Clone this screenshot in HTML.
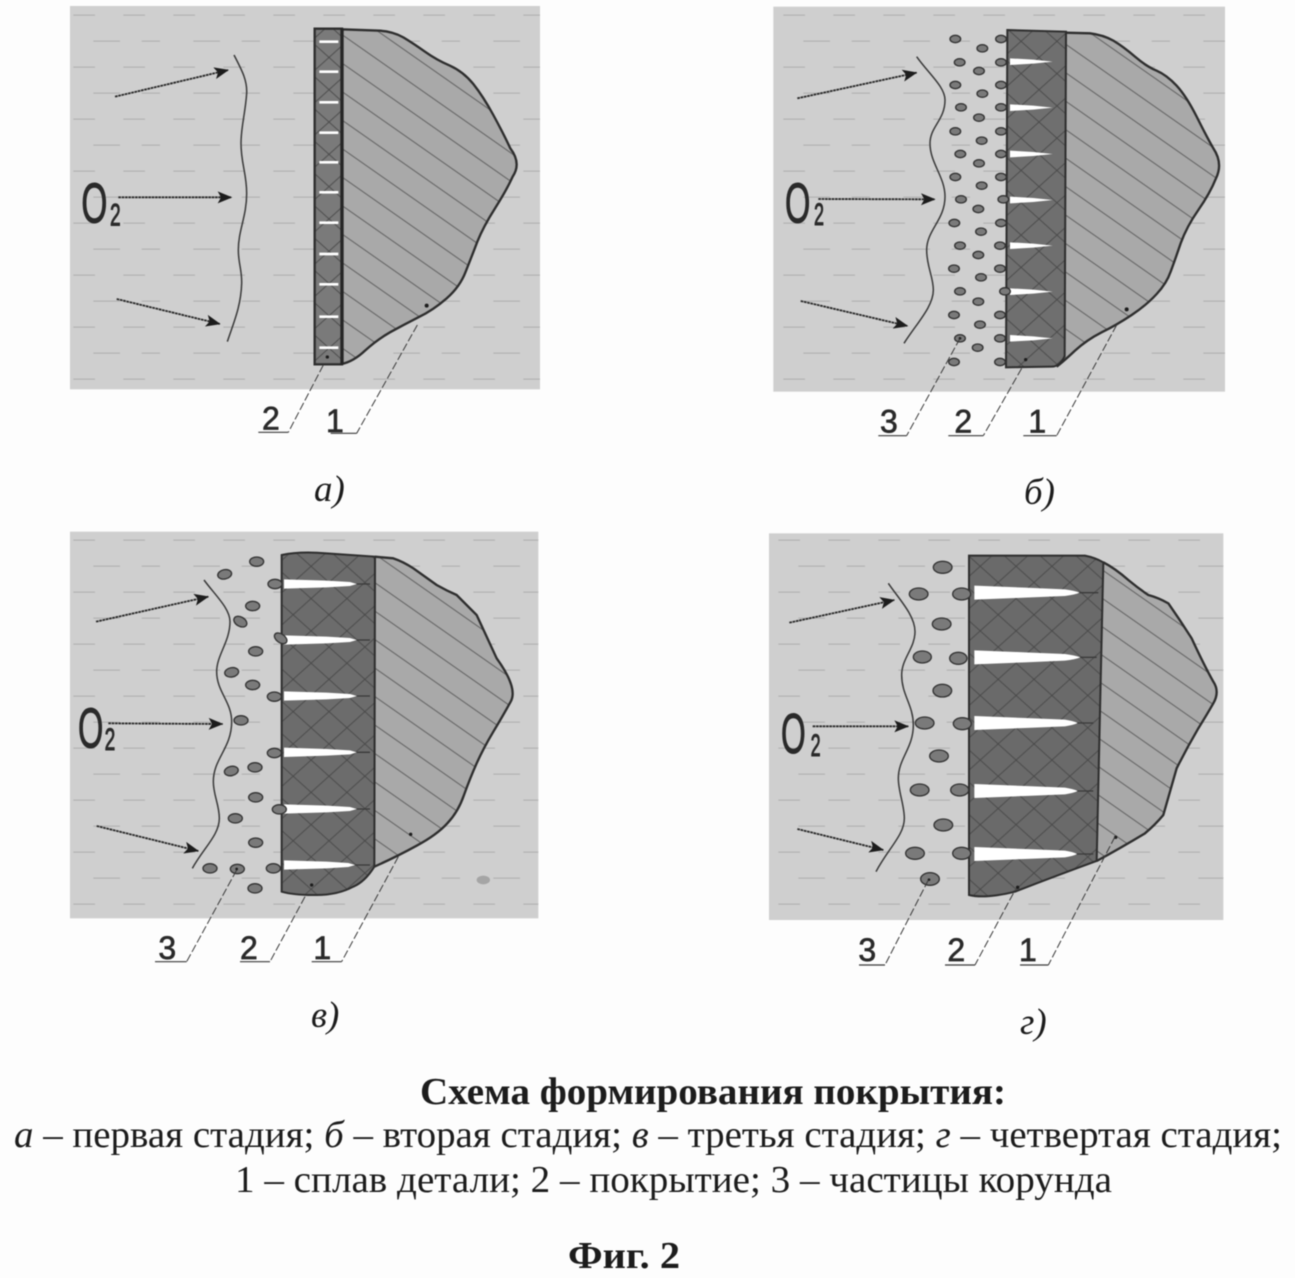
<!DOCTYPE html>
<html lang="ru">
<head>
<meta charset="utf-8">
<title>Фиг. 2</title>
<style>
html,body{margin:0;padding:0;background:#fdfdfd}
svg{display:block;filter:blur(.55px)}
text{font-family:"Liberation Serif","Noto Serif CJK SC",serif;fill:#1c1c1c}
.n{font-family:"Liberation Sans",sans-serif;font-size:96px;fill:#2a2a2a;stroke:#2a2a2a;stroke-width:2}
.o{font-family:"Liberation Sans",sans-serif;fill:#2a2a2a;stroke:#2a2a2a;stroke-width:3}
.cap{font-style:italic;font-size:37px}
.bg{fill:#cfcfcf}
.w{fill:none;stroke:#3a3a3a;stroke-width:4.5}
.ar{fill:none;stroke:#2a2a2a;stroke-width:5.5;stroke-dasharray:8 2;marker-end:url(#ah)}
.ld{fill:none;stroke:#3a3a3a;stroke-width:3;stroke-dasharray:24 8}
.ul{fill:none;stroke:#3a3a3a;stroke-width:3.5}
.sl{fill:#fff}
.ex{stroke:#3a3a3a;stroke-width:4}
.p ellipse{fill:#7a7a7a;stroke:#333;stroke-width:4}
.dot{fill:#1c1c1c}
.big{font-size:38px}
</style>
</head>
<body>
<svg xmlns="http://www.w3.org/2000/svg" width="1295" height="1278" viewBox="0 0 1295 1278">
<defs>
<pattern id="d" patternUnits="userSpaceOnUse" width="300" height="156" x="0" y="0">
<rect x="40" y="44" width="65" height="3" fill="#adadad"/><rect x="190" y="44" width="65" height="3" fill="#adadad"/>
<rect x="100" y="122" width="80" height="3" fill="#adadad"/><rect x="245" y="122" width="80" height="3" fill="#adadad"/>
</pattern>
<pattern id="h" patternUnits="userSpaceOnUse" width="200" height="70" patternTransform="rotate(35)">
<line x1="0" y1="20" x2="200" y2="20" stroke="#555" stroke-width="2.5"/>
</pattern>
<pattern id="xa" patternUnits="userSpaceOnUse" width="200" height="72" patternTransform="rotate(42)">
<line x1="0" y1="20" x2="200" y2="20" stroke="#474747" stroke-width="2.5"/>
</pattern>
<pattern id="xb" patternUnits="userSpaceOnUse" width="200" height="72" patternTransform="rotate(-42)">
<line x1="0" y1="20" x2="200" y2="20" stroke="#474747" stroke-width="2.5"/>
</pattern>
<marker id="ah" markerUnits="userSpaceOnUse" viewBox="0 0 44 40" refX="42" refY="20" markerWidth="44" markerHeight="40" orient="auto">
<path d="M0 2L44 20L0 38L10 20Z" fill="#1c1c1c"/>
</marker>
</defs>

<!-- Panel a -->
<g transform="translate(60,0) scale(.33333)">
<rect class="bg" x="30" y="18" width="1410" height="1150"/>
<rect fill="url(#d)" x="30" y="18" width="1410" height="1150"/>
<path d="M845 88L960 92Q1000 95 1030 112Q1060 130 1095 155Q1130 180 1170 197Q1210 215 1240 252Q1270 290 1300 345Q1330 400 1351 445Q1385 490 1358 530Q1340 570 1305 625Q1270 680 1252 725Q1235 770 1217 815Q1200 860 1160 895Q1120 930 1075 952Q1030 975 990 997Q950 1020 915 1052Q880 1085 845 1092Z" fill="#a9a9a9"/>
<path d="M845 88L960 92Q1000 95 1030 112Q1060 130 1095 155Q1130 180 1170 197Q1210 215 1240 252Q1270 290 1300 345Q1330 400 1351 445Q1385 490 1358 530Q1340 570 1305 625Q1270 680 1252 725Q1235 770 1217 815Q1200 860 1160 895Q1120 930 1075 952Q1030 975 990 997Q950 1020 915 1052Q880 1085 845 1092Z" fill="url(#h)" stroke="#2e2e2e" stroke-width="7"/>
<rect x="764" y="86" width="82" height="1007" fill="#7a7a7a"/>
<rect x="764" y="86" width="82" height="1007" fill="url(#xa)"/>
<rect x="764" y="86" width="82" height="1007" fill="url(#xb)"/>
<rect x="764" y="86" width="82" height="1007" fill="none" stroke="#2e2e2e" stroke-width="7"/>
<line x1="846" y1="86" x2="846" y2="1093" stroke="#262626" stroke-width="10"/>
<path class="sl" d="M778 121h57v8h-57zM778 211h57v8h-57zM778 303h57v8h-57zM778 394h57v8h-57zM778 483h57v8h-57zM778 573h57v8h-57zM778 664h57v8h-57zM778 758h57v8h-57zM778 849h57v8h-57zM778 946h57v8h-57zM778 1039h57v8h-57z"/>
<path class="w" d="M522 165C545 210 562 240 560 280C556 340 543 380 543 430C543 490 560 520 560 580C560 650 535 690 535 750C535 790 546 810 545 850C543 920 520 970 502 1025"/>
<path class="ar" d="M165 290L505 210"/>
<path class="ar" d="M175 592L515 592"/>
<path class="ar" d="M170 897L480 972"/>
<text class="o" x="64" y="667" font-size="170" textLength="78" lengthAdjust="spacingAndGlyphs">O</text>
<text class="o" x="150" y="677" font-size="95" textLength="32" lengthAdjust="spacingAndGlyphs">2</text>
<circle class="dot" cx="802" cy="1071" r="5"/><circle class="dot" cx="1100" cy="917" r="6"/>
<path class="ld" d="M790 1095L685 1297"/><path class="ld" d="M1072 975L890 1300"/>
<path class="ul" d="M595 1297H685M812 1300H890"/>
<text class="n" x="606" y="1288">2</text>
<text class="n" x="798" y="1296">1</text>
</g>

<!-- Panel b -->
<g transform="translate(770,0) scale(.33333)">
<rect class="bg" x="10" y="20" width="1355" height="1155"/>
<rect fill="url(#d)" x="10" y="20" width="1355" height="1155"/>
<path d="M885 98L960 100Q1000 105 1030 122Q1060 140 1095 170Q1130 200 1160 212Q1190 225 1220 257Q1250 290 1280 350Q1310 410 1330 445Q1360 490 1338 535Q1320 580 1285 630Q1250 680 1232 730Q1215 780 1202 815Q1190 850 1160 882Q1130 915 1085 945Q1040 975 995 997Q950 1020 915 1052Q880 1085 860 1100L840 1100L840 98Z" fill="#a9a9a9"/>
<path d="M885 98L960 100Q1000 105 1030 122Q1060 140 1095 170Q1130 200 1160 212Q1190 225 1220 257Q1250 290 1280 350Q1310 410 1330 445Q1360 490 1338 535Q1320 580 1285 630Q1250 680 1232 730Q1215 780 1202 815Q1190 850 1160 882Q1130 915 1085 945Q1040 975 995 997Q950 1020 915 1052Q880 1085 860 1100" fill="url(#h)" stroke="#2e2e2e" stroke-width="7"/>
<path d="M712 90L888 95L884 1068Q870 1100 845 1100L708 1102Z" fill="#6f6f6f"/>
<path d="M712 90L888 95L884 1068Q870 1100 845 1100L708 1102Z" fill="url(#xa)"/>
<path d="M712 90L888 95L884 1068Q870 1100 845 1100L708 1102Z" fill="url(#xb)" stroke="#2e2e2e" stroke-width="6"/>
<path class="sl" d="M720 175L790 179L848 185L790 191L720 195ZM720 313L790 317L848 323L790 329L720 333ZM720 452L790 456L848 462L790 468L720 472ZM720 590L790 594L848 600L790 606L720 610ZM720 727L790 731L848 737L790 743L720 747ZM720 865L790 869L848 875L790 881L720 885ZM720 1005L790 1009L848 1015L790 1021L720 1025Z"/>
<g class="p">
<ellipse cx="556" cy="117" rx="16" ry="11"/><ellipse cx="693" cy="117" rx="16" ry="11"/><ellipse cx="637" cy="145" rx="16" ry="11"/><ellipse cx="569" cy="187" rx="16" ry="11"/><ellipse cx="693" cy="187" rx="16" ry="11"/><ellipse cx="627" cy="213" rx="16" ry="11"/><ellipse cx="556" cy="255" rx="16" ry="11"/><ellipse cx="693" cy="255" rx="16" ry="11"/><ellipse cx="637" cy="281" rx="16" ry="11"/><ellipse cx="573" cy="322" rx="16" ry="11"/><ellipse cx="693" cy="322" rx="16" ry="11"/><ellipse cx="627" cy="353" rx="16" ry="11"/><ellipse cx="556" cy="394" rx="16" ry="11"/><ellipse cx="693" cy="394" rx="16" ry="11"/><ellipse cx="635" cy="422" rx="16" ry="11"/><ellipse cx="571" cy="462" rx="16" ry="11"/><ellipse cx="693" cy="462" rx="16" ry="11"/><ellipse cx="627" cy="490" rx="16" ry="11"/><ellipse cx="556" cy="531" rx="16" ry="11"/><ellipse cx="693" cy="531" rx="16" ry="11"/><ellipse cx="635" cy="557" rx="16" ry="11"/><ellipse cx="573" cy="598" rx="16" ry="11"/><ellipse cx="700" cy="598" rx="16" ry="11"/><ellipse cx="625" cy="627" rx="16" ry="11"/><ellipse cx="553" cy="669" rx="16" ry="11"/><ellipse cx="693" cy="669" rx="16" ry="11"/><ellipse cx="633" cy="695" rx="16" ry="11"/><ellipse cx="570" cy="737" rx="16" ry="11"/><ellipse cx="690" cy="737" rx="16" ry="11"/><ellipse cx="625" cy="765" rx="16" ry="11"/><ellipse cx="552" cy="806" rx="16" ry="11"/><ellipse cx="690" cy="806" rx="16" ry="11"/><ellipse cx="633" cy="832" rx="16" ry="11"/><ellipse cx="570" cy="874" rx="16" ry="11"/><ellipse cx="705" cy="874" rx="16" ry="11"/><ellipse cx="625" cy="905" rx="16" ry="11"/><ellipse cx="552" cy="945" rx="16" ry="11"/><ellipse cx="690" cy="945" rx="16" ry="11"/><ellipse cx="630" cy="974" rx="16" ry="11"/><ellipse cx="570" cy="1015" rx="16" ry="11"/><ellipse cx="690" cy="1015" rx="16" ry="11"/><ellipse cx="623" cy="1043" rx="16" ry="11"/><ellipse cx="552" cy="1086" rx="16" ry="11"/><ellipse cx="690" cy="1086" rx="16" ry="11"/>
</g>
<path class="w" d="M440 170C475 220 525 260 525 300C525 360 480 380 480 430C480 490 525 530 525 590C525 660 470 690 470 750C470 800 490 830 490 870C490 920 440 970 402 1030"/>
<path class="ar" d="M82 295L440 218"/>
<path class="ar" d="M145 597L495 598"/>
<path class="ar" d="M92 903L413 978"/>
<text class="o" x="45" y="667" font-size="170" textLength="76" lengthAdjust="spacingAndGlyphs">O</text>
<text class="o" x="132" y="675" font-size="95" textLength="30" lengthAdjust="spacingAndGlyphs">2</text>
<circle class="dot" cx="767" cy="1079" r="5"/><circle class="dot" cx="1070" cy="928" r="6"/><circle class="dot" cx="570" cy="1015" r="4"/>
<path class="ld" d="M570 1015L410 1307"/><path class="ld" d="M755 1105L640 1307"/><path class="ld" d="M1040 975L860 1307"/>
<path class="ul" d="M325 1307H410M535 1307H640M760 1307H860"/>
<text class="n" x="330" y="1298">3</text>
<text class="n" x="553" y="1298">2</text>
<text class="n" x="775" y="1298">1</text>
</g>

<!-- Panel c -->
<g transform="translate(60,525) scale(.33333)">
<rect class="bg" x="30" y="20" width="1405" height="1160"/>
<rect fill="url(#d)" x="30" y="20" width="1405" height="1160"/>
<ellipse cx="1270" cy="1065" rx="20" ry="13" fill="#a5a5a5"/>
<path d="M930 95L1000 100Q1030 110 1060 130Q1095 155 1130 180Q1160 197 1190 210Q1220 240 1250 270Q1280 335 1310 400Q1375 490 1352 530Q1330 570 1300 620Q1270 670 1250 715Q1230 760 1212 810Q1195 860 1162 895Q1130 930 1070 962Q1010 995 976 1010L930 1030Z" fill="#a9a9a9"/>
<path d="M945 95L1000 100Q1030 110 1060 130Q1095 155 1130 180Q1160 197 1190 210Q1220 240 1250 270Q1280 335 1310 400Q1375 490 1352 530Q1330 570 1300 620Q1270 670 1250 715Q1230 760 1212 810Q1195 860 1162 895Q1130 930 1070 962Q1010 995 943 1025" fill="url(#h)" stroke="#2e2e2e" stroke-width="7"/>
<path d="M665 90Q720 78 800 85L945 95L943 1025Q915 1070 880 1085Q830 1112 760 1110Q700 1110 665 1100Z" fill="#6c6c6c"/>
<path d="M665 90Q720 78 800 85L945 95L943 1025Q915 1070 880 1085Q830 1112 760 1110Q700 1110 665 1100Z" fill="url(#xa)"/>
<path d="M665 90Q720 78 800 85L945 95L943 1025Q915 1070 880 1085Q830 1112 760 1110Q700 1110 665 1100Z" fill="url(#xb)" stroke="#2e2e2e" stroke-width="6"/>
<path class="ex" d="M890 177H930M890 345H930M890 513H930M890 682H930M890 852H930M885 1020H930"/>
<path class="sl" d="M672 163L800 167L870 171L890 177L870 183L800 187L672 191ZM672 331L800 335L870 339L890 345L870 351L800 355L672 359ZM672 499L800 503L870 507L890 513L870 519L800 523L672 527ZM672 668L800 672L870 676L890 682L870 688L800 692L672 696ZM672 838L800 842L870 846L890 852L870 858L800 862L672 866ZM672 1006L800 1010L865 1014L885 1020L865 1026L800 1030L672 1034Z"/>
<g class="p">
<ellipse cx="590" cy="110" rx="21" ry="14"/><ellipse cx="494" cy="148" rx="21" ry="14" transform="rotate(-12 494 148)"/><ellipse cx="645" cy="177" rx="21" ry="14"/><ellipse cx="578" cy="243" rx="21" ry="14"/><ellipse cx="541" cy="290" rx="21" ry="14" transform="rotate(30 541 290)"/><ellipse cx="662" cy="340" rx="21" ry="13" transform="rotate(35 662 340)"/><ellipse cx="587" cy="379" rx="21" ry="14"/><ellipse cx="515" cy="442" rx="21" ry="14" transform="rotate(-10 515 442)"/><ellipse cx="578" cy="480" rx="21" ry="14"/><ellipse cx="643" cy="515" rx="21" ry="14"/><ellipse cx="543" cy="586" rx="21" ry="14"/><ellipse cx="643" cy="684" rx="21" ry="14"/><ellipse cx="514" cy="738" rx="21" ry="14" transform="rotate(-12 514 738)"/><ellipse cx="585" cy="727" rx="21" ry="14"/><ellipse cx="587" cy="817" rx="21" ry="14"/><ellipse cx="658" cy="853" rx="21" ry="14"/><ellipse cx="526" cy="880" rx="21" ry="14"/><ellipse cx="587" cy="953" rx="21" ry="14"/><ellipse cx="450" cy="1030" rx="21" ry="14"/><ellipse cx="532" cy="1032" rx="21" ry="14"/><ellipse cx="640" cy="1030" rx="21" ry="14"/><ellipse cx="585" cy="1090" rx="21" ry="14"/>
</g>
<path class="w" d="M432 165C465 210 510 250 510 290C510 350 470 390 470 440C470 500 515 530 515 590C515 670 460 700 460 770C460 810 478 840 478 880C478 930 430 970 397 1030"/>
<path class="ar" d="M108 290L445 215"/>
<path class="ar" d="M145 595L488 597"/>
<path class="ar" d="M110 903L415 978"/>
<text class="o" x="54" y="667" font-size="170" textLength="76" lengthAdjust="spacingAndGlyphs">O</text>
<text class="o" x="134" y="675" font-size="95" textLength="32" lengthAdjust="spacingAndGlyphs">2</text>
<circle class="dot" cx="755" cy="1080" r="5"/><circle class="dot" cx="1052" cy="928" r="5"/><circle class="dot" cx="530" cy="1032" r="4"/>
<path class="ld" d="M530 1035L380 1310"/><path class="ld" d="M735 1115L630 1310"/><path class="ld" d="M1015 995L845 1310"/>
<path class="ul" d="M285 1310H380M540 1310H630M755 1310H845"/>
<text class="n" x="295" y="1302">3</text>
<text class="n" x="540" y="1302">2</text>
<text class="n" x="760" y="1302">1</text>
</g>

<!-- Panel d -->
<g transform="translate(765,525) scale(.33333)">
<rect class="bg" x="12" y="25" width="1363" height="1160"/>
<rect fill="url(#d)" x="12" y="25" width="1363" height="1160"/>
<path d="M1000 105Q1050 125 1090 165Q1120 190 1150 210Q1180 218 1210 235Q1245 285 1280 340Q1317 420 1345 470Q1365 500 1345 535Q1325 570 1300 610Q1265 670 1235 730Q1215 800 1195 870Q1170 900 1140 925Q1065 970 980 1015Z" fill="#a9a9a9"/>
<path d="M1015 112Q1050 130 1090 165Q1120 190 1150 210Q1180 218 1210 235Q1245 285 1280 340Q1317 420 1345 470Q1365 500 1345 535Q1325 570 1300 610Q1265 670 1235 730Q1215 800 1195 870Q1170 900 1140 925Q1065 970 995 1008" fill="url(#h)" stroke="#2e2e2e" stroke-width="7"/>
<path d="M612 92L960 92Q990 98 1015 112L995 1008Q880 1050 750 1100Q660 1122 612 1110Z" fill="#6a6a6a"/>
<path d="M612 92L960 92Q990 98 1015 112L995 1008Q880 1050 750 1100Q660 1122 612 1110Z" fill="url(#xa)"/>
<path d="M612 92L960 92Q990 98 1015 112L995 1008Q880 1050 750 1100Q660 1122 612 1110Z" fill="url(#xb)" stroke="#2e2e2e" stroke-width="6"/>
<path class="ex" d="M940 203H1000M945 397H995M935 594H985M935 798H985M935 987H985"/>
<path class="sl" d="M628 182L780 188L900 193Q930 197 944 203Q930 209 900 213L780 218L628 224ZM628 376L780 382L900 387Q930 391 946 397Q930 403 900 407L780 412L628 418ZM628 573L780 579L900 584Q925 588 938 594Q925 600 900 604L780 609L628 615ZM628 777L780 783L900 788Q925 792 938 798Q925 804 900 808L780 813L628 819ZM628 966L780 972L900 977Q925 981 936 987Q925 993 900 997L780 1002L628 1008Z"/>
<g class="p">
<ellipse cx="533" cy="127" rx="28" ry="18"/><ellipse cx="461" cy="207" rx="28" ry="18"/><ellipse cx="590" cy="207" rx="27" ry="18"/><ellipse cx="530" cy="297" rx="28" ry="18"/><ellipse cx="472" cy="396" rx="27" ry="18"/><ellipse cx="580" cy="400" rx="26" ry="18"/><ellipse cx="532" cy="497" rx="28" ry="19"/><ellipse cx="479" cy="594" rx="28" ry="18"/><ellipse cx="592" cy="596" rx="27" ry="18"/><ellipse cx="522" cy="693" rx="28" ry="18"/><ellipse cx="464" cy="795" rx="28" ry="18"/><ellipse cx="584" cy="795" rx="27" ry="18"/><ellipse cx="535" cy="900" rx="28" ry="18"/><ellipse cx="450" cy="985" rx="28" ry="18"/><ellipse cx="590" cy="985" rx="27" ry="18"/><ellipse cx="495" cy="1062" rx="28" ry="19"/>
</g>
<path class="w" d="M370 175C400 220 450 270 450 320C450 370 410 400 410 450C410 510 445 540 445 600C445 670 400 700 400 760C400 800 418 840 418 880C418 930 370 970 333 1040"/>
<path class="ar" d="M73 293L388 225"/>
<path class="ar" d="M143 604L430 604"/>
<path class="ar" d="M97 912L355 975"/>
<text class="o" x="48" y="684" font-size="170" textLength="74" lengthAdjust="spacingAndGlyphs">O</text>
<text class="o" x="137" y="693" font-size="95" textLength="30" lengthAdjust="spacingAndGlyphs">2</text>
<circle class="dot" cx="758" cy="1087" r="5"/><circle class="dot" cx="1052" cy="937" r="5"/><circle class="dot" cx="492" cy="1064" r="4"/>
<path class="ld" d="M490 1065L360 1320"/><path class="ld" d="M745 1105L630 1320"/><path class="ld" d="M1050 935L850 1320"/>
<path class="ul" d="M282 1320H360M540 1320H630M765 1320H850"/>
<text class="n" x="280" y="1308">3</text>
<text class="n" x="547" y="1308">2</text>
<text class="n" x="762" y="1308">1</text>
</g>

<!-- Captions -->
<text class="cap" x="314" y="501">а)</text>
<text class="cap" x="1024" y="504">б)</text>
<text class="cap" x="311" y="1027">в)</text>
<text class="cap" x="1020" y="1034">г)</text>

<text class="big" x="420" y="1104" font-weight="bold" textLength="586" lengthAdjust="spacingAndGlyphs">Схема формирования покрытия:</text>
<text class="big" x="14" y="1147" textLength="1268" lengthAdjust="spacingAndGlyphs"><tspan font-style="italic">а</tspan> – первая стадия; <tspan font-style="italic">б</tspan> – вторая стадия; <tspan font-style="italic">в</tspan> – третья стадия; <tspan font-style="italic">г</tspan> – четвертая стадия;</text>
<text class="big" x="235" y="1192" textLength="877" lengthAdjust="spacingAndGlyphs">1 – сплав детали; 2 – покрытие; 3 – частицы корунда</text>
<text class="big" x="568" y="1268" font-weight="bold" textLength="112" lengthAdjust="spacingAndGlyphs">Фиг. 2</text>
</svg>
</body>
</html>
